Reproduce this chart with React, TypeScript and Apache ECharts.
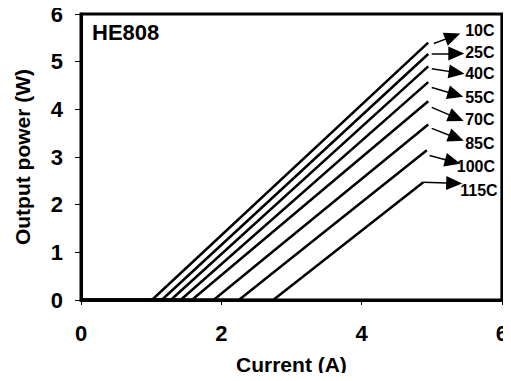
import React, { useEffect, useRef } from "react";
import * as echarts from "echarts";

const temps = ["10C", "25C", "40C", "55C", "70C", "85C", "100C", "115C"];
const thresholdCurrent = [1.01, 1.15, 1.28, 1.42, 1.58, 1.89, 2.25, 2.74];
const endCurrent = [4.95, 4.95, 4.95, 4.95, 4.95, 4.95, 4.93, 4.88];
const endPower = [5.4, 5.16, 4.9, 4.57, 4.17, 3.68, 3.14, 2.47];
const arrowFrom = [
  [5.03, 5.38], [5.0, 5.17], [5.0, 4.85], [5.0, 4.46],
  [5.0, 4.04], [5.0, 3.6], [4.97, 3.03], [4.88, 2.47],
];
const arrowTo = [
  [5.3, 5.53], [5.35, 5.17], [5.355, 4.77], [5.34, 4.31],
  [5.35, 3.82], [5.35, 3.4], [5.3, 2.9], [5.32, 2.45],
];
const labelAt = [
  [5.47, 5.65], [5.47, 5.19], [5.47, 4.75], [5.47, 4.25],
  [5.47, 3.79], [5.47, 3.28], [5.35, 2.8], [5.4, 2.3],
];
const xTicks = { min: 0, max: 6, interval: 2 };
const yTicks = { min: 0, max: 6, interval: 1 };

const FONT = "Liberation Sans, Arial, sans-serif";

export default function App() {
  const ref = useRef<HTMLDivElement>(null);
  useEffect(() => {
    if (!ref.current) return;
    const chart = echarts.init(ref.current, null, { renderer: "svg" });
    const series = temps.map((t, i) => ({
      type: "line",
      name: t,
      data: [
        [0, 0],
        [thresholdCurrent[i], 0],
        [endCurrent[i], endPower[i]],
      ],
      showSymbol: false,
      symbol: "none",
      lineStyle: { color: "#000", width: 2.5 },
      markLine: {
        silent: true,
        symbol: ["none", "triangle"],
        symbolSize: [14, 16],
        lineStyle: { color: "#000", width: 1.5, type: "solid" },
        label: { show: false },
        data: [
          [
            { coord: arrowFrom[i], symbol: "none" },
            { coord: arrowTo[i], symbol: "triangle" },
          ],
        ],
      },
      markPoint: {
        silent: true,
        symbol: "circle",
        symbolSize: 1,
        itemStyle: { color: "rgba(0,0,0,0)" },
        label: {
          show: true,
          position: "right",
          distance: 0,
          formatter: t,
          color: "#000",
          fontWeight: "bold",
          fontSize: 16,
          fontFamily: FONT,
        },
        data: [{ coord: labelAt[i] }],
      },
    }));
    chart.setOption({
      animation: false,
      grid: {
        left: 81,
        right: 5,
        top: 14,
        bottom: 81,
        show: true,
        borderColor: "#000",
        borderWidth: 3,
      },
      xAxis: {
        type: "value",
        ...xTicks,
        name: "Current (A)",
        nameLocation: "middle",
        nameGap: 54,
        nameTextStyle: { color: "#000", fontWeight: "bold", fontSize: 21, fontFamily: FONT },
        axisLine: { show: true, lineStyle: { color: "#000", width: 3 } },
        axisTick: { show: true, inside: false, length: 5, lineStyle: { color: "#000", width: 1 } },
        axisLabel: { color: "#000", fontWeight: "bold", fontSize: 22, fontFamily: FONT, margin: 22 },
        splitLine: { show: false },
      },
      yAxis: {
        type: "value",
        ...yTicks,
        name: "Output power (W)",
        nameLocation: "middle",
        nameGap: 48,
        nameRotate: 90,
        nameTextStyle: { color: "#000", fontWeight: "bold", fontSize: 21, fontFamily: FONT },
        axisLine: { show: true, lineStyle: { color: "#000", width: 3 } },
        axisTick: { show: true, inside: false, length: 6, lineStyle: { color: "#000", width: 1 } },
        axisLabel: { color: "#000", fontWeight: "bold", fontSize: 22, fontFamily: FONT, margin: 18 },
        splitLine: { show: false },
      },
      graphic: [
        {
          type: "text",
          left: 92,
          top: 21,
          style: { text: "HE808", fill: "#000", font: `bold 22px ${FONT}` },
        },
      ],
      series,
    });
    return () => chart.dispose();
  }, []);
  return <div ref={ref} style={{ width: 511, height: 381, margin: -8 }} />;
}
